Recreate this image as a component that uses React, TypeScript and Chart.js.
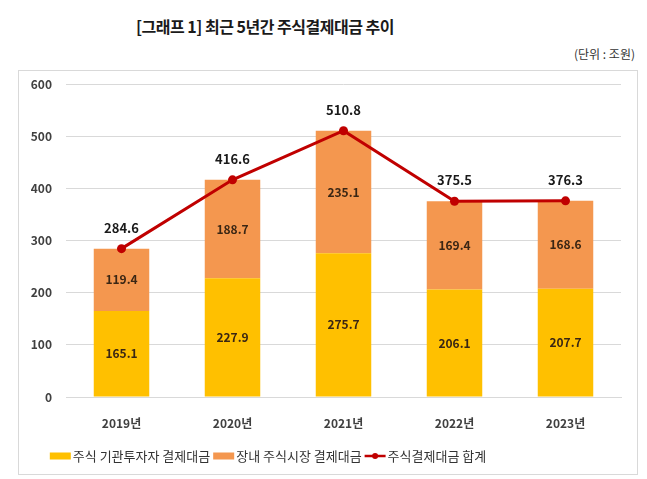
import React, { useEffect, useRef } from "react";
import { Chart, registerables } from "chart.js";

Chart.register(...registerables);

const categories = ["2019년", "2020년", "2021년", "2022년", "2023년"];
const institutional = [165.1, 227.9, 275.7, 206.1, 207.7];
const exchange = [119.4, 188.7, 235.1, 169.4, 168.6];
const totals = [284.6, 416.6, 510.8, 375.5, 376.3];
const seriesNames = ["주식 기관투자자 결제대금", "장내 주식시장 결제대금", "주식결제대금 합계"];
const yTicks = [0, 100, 200, 300, 400, 500, 600];

const YELLOW = "#FFC000";
const ORANGE = "#F4974F";
const RED = "#C00000";
const FONT = "'Noto Sans CJK KR', 'Noto Sans', sans-serif";

const labelPlugin = {
  id: "valueLabels",
  afterDatasetsDraw(chart: any) {
    const ctx = chart.ctx;
    ctx.save();
    ctx.textAlign = "center";
    ctx.textBaseline = "middle";
    [0, 1].forEach((di) => {
      const meta = chart.getDatasetMeta(di);
      meta.data.forEach((bar: any, i: number) => {
        const v = chart.data.datasets[di].data[i];
        const cy = (bar.y + bar.base) / 2;
        ctx.font = `bold 12px ${FONT}`;
        ctx.fillStyle = "#3a2614";
        ctx.fillText(v.toFixed(1), bar.x, cy);
      });
    });
    const lmeta = chart.getDatasetMeta(2);
    lmeta.data.forEach((pt: any, i: number) => {
      const v = chart.data.datasets[2].data[i];
      ctx.font = `bold 13px ${FONT}`;
      ctx.fillStyle = "#1a1a1a";
      ctx.fillText(v.toFixed(1), pt.x, pt.y - 21);
    });
    ctx.restore();
  },
};

const legendPlugin = {
  id: "customLegend",
  afterDraw(chart: any) {
    const ctx = chart.ctx;
    ctx.save();
    ctx.font = `13px ${FONT}`;
    ctx.textBaseline = "middle";
    const y = 393;
    const boxW = 21;
    const gapAfterBox = 2;
    const gapItem = 3;
    const widths = seriesNames.map((n) => ctx.measureText(n).width);
    const total = widths.reduce((a, b) => a + b, 0) + 3 * (boxW + gapAfterBox) + 2 * gapItem;
    let x = 249 - total / 2;
    const colors = [YELLOW, ORANGE, RED];
    seriesNames.forEach((name, i) => {
      if (i < 2) {
        ctx.fillStyle = colors[i];
        ctx.fillRect(x, y - 3.5, boxW, 7);
      } else {
        ctx.strokeStyle = RED;
        ctx.lineWidth = 2.5;
        ctx.beginPath();
        ctx.moveTo(x, y);
        ctx.lineTo(x + boxW, y);
        ctx.stroke();
        ctx.fillStyle = RED;
        ctx.beginPath();
        ctx.arc(x + boxW / 2, y, 3, 0, Math.PI * 2);
        ctx.fill();
      }
      x += boxW + gapAfterBox;
      ctx.fillStyle = "#333333";
      ctx.textAlign = "left";
      ctx.fillText(name, x, y);
      x += widths[i] + gapItem;
    });
    ctx.restore();
  },
};

export default function App() {
  const ref = useRef<HTMLCanvasElement>(null);
  useEffect(() => {
    document.body.style.margin = "0";
    const chart = new Chart(ref.current!, {
      type: "bar",
      data: {
        labels: categories,
        datasets: [
          {
            type: "bar",
            label: seriesNames[0],
            data: institutional,
            backgroundColor: YELLOW,
            stack: "s",
            barPercentage: 0.5,
            categoryPercentage: 1,
            order: 2,
          } as any,
          {
            type: "bar",
            label: seriesNames[1],
            data: exchange,
            backgroundColor: ORANGE,
            stack: "s",
            barPercentage: 0.5,
            categoryPercentage: 1,
            order: 2,
          },
          {
            type: "line",
            label: seriesNames[2],
            data: totals,
            borderColor: RED,
            backgroundColor: RED,
            borderWidth: 3,
            pointRadius: 4.5,
            pointBackgroundColor: RED,
            pointBorderWidth: 0,
            tension: 0,
            order: 1,
          },
        ],
      },
      options: {
        animation: false,
        responsive: false,
        layout: { padding: { left: 0, right: 16, top: 5, bottom: 0 } },
        plugins: { legend: { display: false }, tooltip: { enabled: false } },
        scales: {
          x: {
            stacked: true,
            grid: { display: false, drawTicks: false },
            border: { display: true, color: "#d9d9d9" },
            ticks: { padding: 19, color: "#404040", font: { family: FONT, size: 12, weight: "bold" } },
            afterFit(scale: any) {
              scale.height = 77;
            },
          },
          y: {
            stacked: true,
            min: 0,
            max: 600,
            afterBuildTicks(scale: any) {
              scale.ticks = yTicks.map((v) => ({ value: v }));
            },
            grid: { color: "#d9d9d9", drawTicks: false },
            border: { display: false },
            ticks: { padding: 14, color: "#404040", font: { family: FONT, size: 12, weight: "bold" } },
            afterFit(scale: any) {
              scale.width = 47;
            },
          },
        },
      },
      plugins: [labelPlugin, legendPlugin],
    } as any);
    return () => chart.destroy();
  }, []);

  return (
    <div style={{ position: "relative", width: 647, height: 479, background: "#fff", fontFamily: FONT }}>
      <div
        style={{
          position: "absolute",
          left: 0,
          width: 530,
          top: 14,
          textAlign: "center",
          fontSize: 16,
          fontWeight: "bold",
          letterSpacing: -0.5,
          color: "#1a1a1a",
          lineHeight: "24px",
        }}
      >
        [그래프 1] 최근 5년간 주식결제대금 추이
      </div>
      <div
        style={{
          position: "absolute",
          right: 12,
          top: 45,
          fontSize: 12,
          color: "#333",
          lineHeight: "18px",
        }}
      >
        (단위 : 조원)
      </div>
      <div
        style={{
          position: "absolute",
          left: 18,
          top: 70,
          width: 618,
          height: 403,
          border: "1px solid #d9d9d9",
        }}
      />
      <canvas
        ref={ref}
        width={618}
        height={411}
        style={{ display: "block", position: "absolute", left: 19, top: 63 }}
      />
    </div>
  );
}
